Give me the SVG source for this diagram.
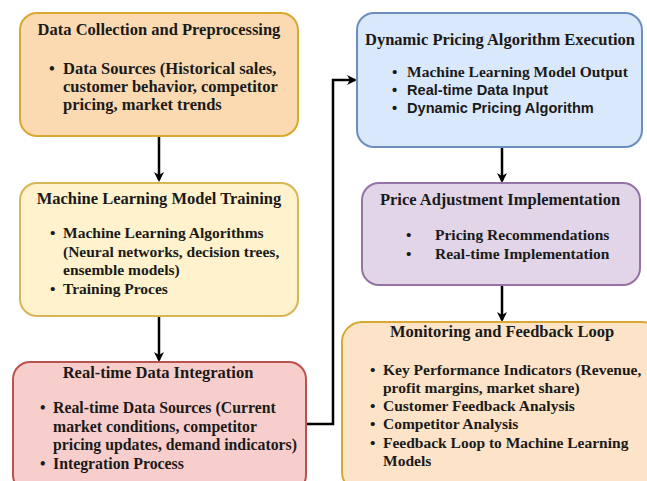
<svg xmlns="http://www.w3.org/2000/svg" width="647" height="481" viewBox="0 0 647 481">
  <style>
    .box { stroke-width: 2; }
    .title { font-family: "Liberation Serif", "Times New Roman", serif; font-weight: bold; font-size: 16.5px; fill: #1a1a1a; text-anchor: middle; }
    .body { font-family: "Liberation Serif", "Times New Roman", serif; font-weight: bold; font-size: 15.5px; fill: #1a1a1a; }
    .lg { font-size: 16.5px; }
    .md { font-size: 15.8px; }
    .sans { font-family: "Liberation Sans", Arial, sans-serif; font-weight: bold; font-size: 14.6px; fill: #1a1a1a; }
    .edge { fill: none; stroke: #000; stroke-width: 2.5; }
  </style>
  <defs>
    <marker id="arrow" markerWidth="10" markerHeight="10" refX="8" refY="5" orient="auto" markerUnits="userSpaceOnUse" viewBox="0 0 10 10">
      <path d="M0,0 L10,5 L0,10 L3,5 Z" fill="#000"/>
    </marker>
  </defs>
  <rect width="647" height="481" fill="#ffffff"/>

  <!-- connectors -->
  <g id="connectors">
    <line class="edge" x1="159" y1="137" x2="159" y2="180" marker-end="url(#arrow)"/>
    <line class="edge" x1="159" y1="317" x2="159" y2="360" marker-end="url(#arrow)"/>
    <polyline class="edge" points="306,424 333,424 333,80 355,80" marker-end="url(#arrow)"/>
    <line class="edge" x1="502" y1="147" x2="502" y2="181" marker-end="url(#arrow)"/>
    <line class="edge" x1="502" y1="286" x2="502" y2="320" marker-end="url(#arrow)"/>
  </g>

  <!-- Data Collection and Preprocessing -->
  <g id="data-collection">
    <rect class="box" x="20" y="13" width="278" height="123" rx="17" fill="#fbdab2" stroke="#d9a830"/>
    <text class="title" x="159" y="35">Data Collection and Preprocessing</text>
    <text class="body lg" x="49" y="74">•</text>
    <text class="body lg" x="63" y="74">Data Sources (Historical sales,</text>
    <text class="body lg" x="63" y="92">customer behavior, competitor</text>
    <text class="body lg" x="63" y="110">pricing, market trends</text>
  </g>

  <!-- Machine Learning Model Training -->
  <g id="model-training">
    <rect class="box" x="20" y="183" width="278" height="133" rx="17" fill="#fff2cc" stroke="#d6b656"/>
    <text class="title" x="159" y="204">Machine Learning Model Training</text>
    <text class="body" x="50" y="238">•</text>
    <text class="body" x="63" y="238">Machine Learning Algorithms</text>
    <text class="body" x="63" y="257">(Neural networks, decision trees,</text>
    <text class="body" x="63" y="275">ensemble models)</text>
    <text class="body" x="50" y="294">•</text>
    <text class="body" x="63" y="294">Training Proces</text>
  </g>

  <!-- Real-time Data Integration -->
  <g id="data-integration">
    <rect class="box" x="13" y="362" width="293" height="130" rx="17" fill="#f8cecc" stroke="#b85450"/>
    <text class="title" x="158" y="378">Real-time Data Integration</text>
    <text class="body md" x="40" y="413">•</text>
    <text class="body md" x="53" y="413">Real-time Data Sources (Current</text>
    <text class="body md" x="53" y="432">market conditions, competitor</text>
    <text class="body md" x="53" y="450">pricing updates, demand indicators)</text>
    <text class="body md" x="40" y="469">•</text>
    <text class="body md" x="53" y="469">Integration Process</text>
  </g>

  <!-- Dynamic Pricing Algorithm Execution -->
  <g id="pricing-execution">
    <rect class="box" x="357" y="13" width="285" height="134" rx="17" fill="#dae8fc" stroke="#6c8ebf"/>
    <text class="title" x="500" y="45">Dynamic Pricing Algorithm Execution</text>
    <text class="body" x="392" y="77">•</text>
    <text class="body" x="407" y="77">Machine Learning Model Output</text>
    <text class="sans" x="392" y="95">•</text>
    <text class="sans" x="407" y="95">Real-time Data Input</text>
    <text class="sans" x="392" y="113">•</text>
    <text class="sans" x="407" y="113">Dynamic Pricing Algorithm</text>
  </g>

  <!-- Price Adjustment Implementation -->
  <g id="price-adjustment">
    <rect class="box" x="362" y="183" width="278" height="102" rx="17" fill="#e1d5e7" stroke="#9673a6"/>
    <text class="title" x="500" y="205">Price Adjustment Implementation</text>
    <text class="body" x="406" y="240">•</text>
    <text class="body" x="435" y="240">Pricing Recommendations</text>
    <text class="body" x="406" y="259">•</text>
    <text class="body" x="435" y="259">Real-time Implementation</text>
  </g>

  <!-- Monitoring and Feedback Loop -->
  <g id="monitoring">
    <rect class="box" x="342" y="322" width="320" height="170" rx="20" fill="#fde3c8" stroke="#d9a830"/>
    <text class="title" x="502" y="337">Monitoring and Feedback Loop</text>
    <text class="body" x="370" y="375">•</text>
    <text class="body" x="383" y="375">Key Performance Indicators (Revenue,</text>
    <text class="body" x="383" y="393">profit margins, market share)</text>
    <text class="body" x="370" y="411">•</text>
    <text class="body" x="383" y="411">Customer Feedback Analysis</text>
    <text class="body" x="370" y="429">•</text>
    <text class="body" x="383" y="429">Competitor Analysis</text>
    <text class="body" x="370" y="448">•</text>
    <text class="body" x="383" y="448">Feedback Loop to Machine Learning</text>
    <text class="body" x="383" y="466">Models</text>
  </g>
</svg>
